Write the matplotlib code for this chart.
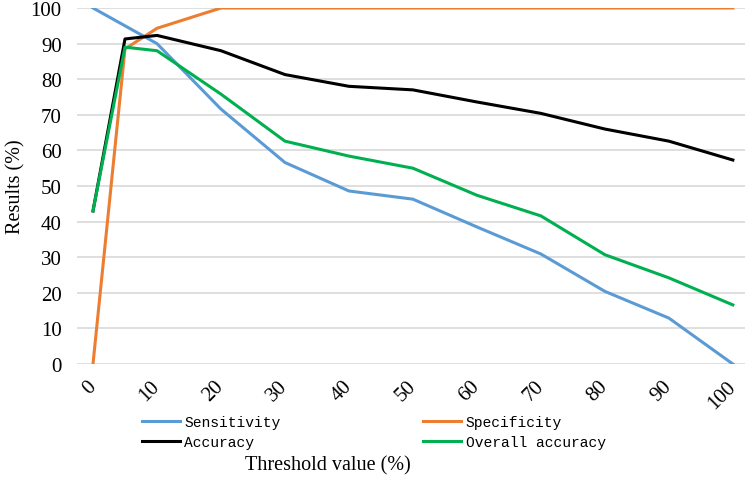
import numpy as np
import matplotlib
matplotlib.use("Agg")
from matplotlib import pyplot as plt

# threshold values (%) and the four result series (%)
thresholds = [0, 5, 10, 20, 30, 40, 50, 60, 70, 80, 90, 100]
sensitivity = [100, 95, 90, 71.6, 56.6, 48.6, 46.3, 38.5, 30.9, 20.4, 12.9, 0]
specificity = [0, 88.5, 94.3, 100, 100, 100, 100, 100, 100, 100, 100, 100]
accuracy = [43, 91.3, 92.3, 88, 81.3, 78, 77, 73.6, 70.4, 66, 62.6, 57.3]
overall_accuracy = [43, 89, 88, 75.8, 62.6, 58.4, 55, 47.4, 41.6, 30.7, 24.2, 16.6]

x_ticks = [0, 10, 20, 30, 40, 50, 60, 70, 80, 90, 100]
y_ticks = [0, 10, 20, 30, 40, 50, 60, 70, 80, 90, 100]

SERIF = "Liberation Serif"
MONO = "Liberation Mono"

fig = plt.figure(figsize=(7.52, 4.89), dpi=100)
ax = fig.add_axes([77 / 752, 1 - 365 / 489, (745 - 77) / 752, (365 - 9) / 489])

lw = 2.2
l_sens, = ax.plot(thresholds, sensitivity, color="#5B9BD5", lw=lw, label="Sensitivity")
l_spec, = ax.plot(thresholds, specificity, color="#ED7D31", lw=lw, label="Specificity")
l_acc, = ax.plot(thresholds, accuracy, color="#000000", lw=lw, label="Accuracy")
l_oa, = ax.plot(thresholds, overall_accuracy, color="#00B050", lw=lw, label="Overall accuracy")

ax.set_xlim(-2.5, 101.9)
ax.set_ylim(0, 100)
ax.set_yticks(y_ticks)
ax.set_xticks(x_ticks)
ax.set_xticklabels([str(t) for t in x_ticks], rotation=45, ha="right", va="center",
                   rotation_mode="anchor", fontfamily=SERIF, fontsize=15)
ax.set_yticklabels([str(t) for t in y_ticks], fontfamily=SERIF, fontsize=15)
ax.tick_params(axis="both", length=0)
ax.tick_params(axis="y", pad=11)
ax.tick_params(axis="x", pad=14)

ax.grid(axis="y", color="#d9d9d9", lw=1.2)
ax.set_axisbelow(True)
for s in ax.spines.values():
    s.set_visible(False)

# legend: two columns, Sensitivity/Accuracy left, Specificity/Overall accuracy right
fig.legend(handles=[l_sens, l_acc, l_spec, l_oa], ncol=2, loc="upper left",
           bbox_to_anchor=(142 / 752, 1 - 416 / 489), frameon=False,
           prop={"family": MONO, "size": 10.5}, handlelength=2.6, handletextpad=0.3,
           columnspacing=9.8, labelspacing=0.4, borderpad=0, borderaxespad=0)

fig.text(328 / 752, 1 - 466 / 489, "Threshold value (%)", ha="center", va="center",
         fontfamily=SERIF, fontsize=14.5)
fig.text(16 / 752, 1 - 187 / 489, "Results (%)", ha="center", va="center",
         rotation=90, fontfamily=SERIF, fontsize=14.5)

fig.savefig("out.png", dpi=100)
